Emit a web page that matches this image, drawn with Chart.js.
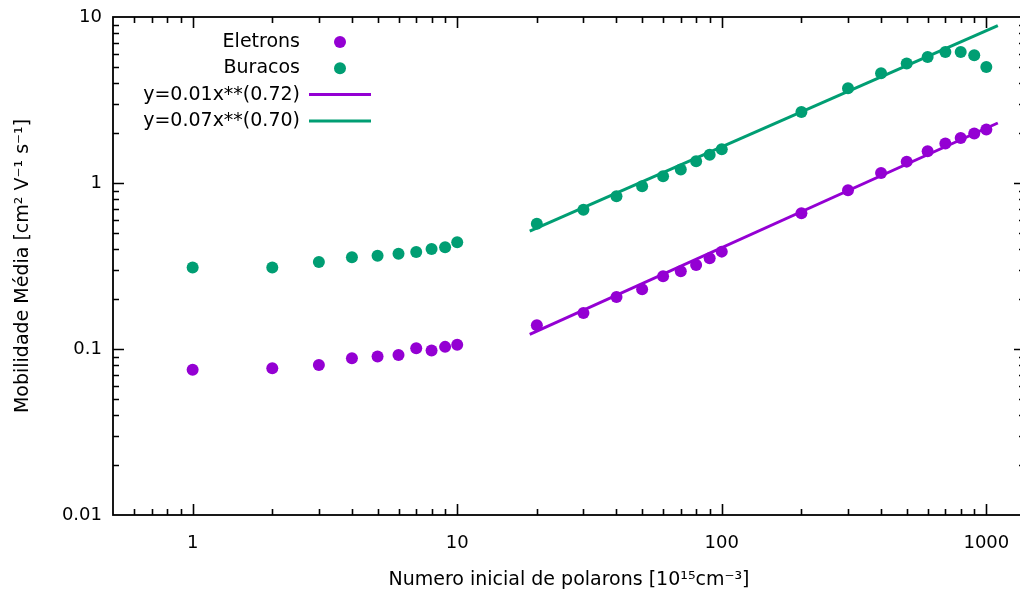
<!DOCTYPE html>
<html>
<head>
<meta charset="utf-8">
<script src="https://cdn.jsdelivr.net/npm/chart.js@4/dist/chart.umd.min.js"></script>
<style>
  html, body { margin: 0; padding: 0; background: #fff; overflow: hidden; }
  #wrap { width: 1032px; height: 595px; }
</style>
</head>
<body>
<div id="wrap"><canvas id="chart" width="1032" height="595"></canvas></div>
<script>
// Initial polaron density [10^15 cm^-3]
const densities = [1, 2, 3, 4, 5, 6, 7, 8, 9, 10,
                   20, 30, 40, 50, 60, 70, 80, 90, 100,
                   200, 300, 400, 500, 600, 700, 800, 900, 1000];
// Mean mobility [cm^2 V^-1 s^-1]
const electronMobility = [0.075, 0.0765, 0.080, 0.088, 0.090, 0.092, 0.101, 0.098, 0.103, 0.106,
                          0.139, 0.165, 0.206, 0.229, 0.274, 0.294, 0.321, 0.352, 0.386,
                          0.657, 0.904, 1.149, 1.345, 1.552, 1.727, 1.867, 1.984, 2.097];
const holeMobility = [0.310, 0.310, 0.334, 0.357, 0.365, 0.375, 0.384, 0.400, 0.410, 0.439,
                      0.569, 0.691, 0.831, 0.957, 1.097, 1.204, 1.350, 1.480, 1.596,
                      2.678, 3.720, 4.580, 5.240, 5.740, 6.150, 6.150, 5.880, 5.000];
// Power-law fits y = a * x**b  ->  [a, b]
const electronFit = [0.0148, 0.72];
const holeFit = [0.0657, 0.70];
const fitRange = [18.8, 1105];
// Axis ticks
const xTickValues = [1, 10, 100, 1000];
const yTickValues = [0.01, 0.1, 1, 10];
const seriesNames = ['Eletrons', 'Buracos'];

const PURPLE = '#9400d3';
const GREEN = '#009e73';
const FONT = "'DejaVu Sans', Verdana, sans-serif";

Chart.defaults.font.family = FONT;
Chart.defaults.color = '#000';

const fitLabel = f => 'y=' + f[0].toFixed(2) + 'x**(' + f[1].toFixed(2) + ')';
const fitPoints = f => fitRange.map(x => ({ x: x, y: f[0] * Math.pow(x, f[1]) }));
const pairs = ys => densities.map((x, i) => ({ x: x, y: ys[i] }));

// gnuplot-style frame: full box with inward major/minor ticks on every side
const framePlugin = {
  id: 'frame',
  afterDraw(chart) {
    const { ctx, chartArea: a, scales } = chart;
    const xs = scales.x, ys = scales.y;
    const majorLen = 11, minorLen = 6;
    ctx.save();
    ctx.strokeStyle = '#000';
    ctx.lineWidth = 1.8;
    ctx.strokeRect(a.left, a.top, a.right - a.left, a.bottom - a.top);
    ctx.lineWidth = 1.6;
    const logTicks = (min, max) => {
      const out = [];
      for (let d = Math.floor(Math.log10(min)); d <= Math.ceil(Math.log10(max)); d++) {
        for (let k = 1; k <= 9; k++) {
          const v = k * Math.pow(10, d);
          if (v > min * 1.0001 && v < max * 0.9999) out.push({ v: v, major: k === 1 });
        }
      }
      return out;
    };
    ctx.beginPath();
    logTicks(xs.min, xs.max).forEach(t => {
      const px = Math.round(xs.getPixelForValue(t.v)) + 0.5;
      const len = t.major ? majorLen : minorLen;
      ctx.moveTo(px, a.bottom); ctx.lineTo(px, a.bottom - len);
      ctx.moveTo(px, a.top); ctx.lineTo(px, a.top + len);
    });
    logTicks(ys.min, ys.max).forEach(t => {
      const py = Math.round(ys.getPixelForValue(t.v)) + 0.5;
      const len = t.major ? majorLen : minorLen;
      ctx.moveTo(a.left, py); ctx.lineTo(a.left + len, py);
      ctx.moveTo(a.right, py); ctx.lineTo(a.right - len, py);
    });
    ctx.stroke();
    ctx.restore();
  }
};

// Key in the upper left: right-aligned text with the sample to its right
const keyPlugin = {
  id: 'key',
  afterDraw(chart, args, opts) {
    const ctx = chart.ctx;
    ctx.save();
    ctx.font = opts.fontSize + 'px ' + FONT;
    ctx.textAlign = 'right';
    ctx.textBaseline = 'middle';
    ctx.fillStyle = '#000';
    const order = [2, 3, 0, 1];
    order.forEach((di, row) => {
      const ds = chart.data.datasets[di];
      const y = opts.top + row * opts.rowHeight;
      ctx.fillText(ds.label, opts.textRight, y);
      if (ds.type === 'line') {
        ctx.strokeStyle = ds.borderColor;
        ctx.lineWidth = ds.borderWidth;
        ctx.beginPath();
        ctx.moveTo(opts.sampleLeft, y);
        ctx.lineTo(opts.sampleRight, y);
        ctx.stroke();
      } else {
        ctx.fillStyle = ds.backgroundColor;
        ctx.beginPath();
        ctx.arc((opts.sampleLeft + opts.sampleRight) / 2, y, ds.pointRadius, 0, Math.PI * 2);
        ctx.fill();
        ctx.fillStyle = '#000';
      }
    });
    ctx.restore();
  }
};

new Chart(document.getElementById('chart'), {
  type: 'scatter',
  data: {
    datasets: [
      { type: 'line', label: fitLabel(electronFit), data: fitPoints(electronFit),
        borderColor: PURPLE, borderWidth: 3, pointRadius: 0, fill: false, order: 0 },
      { type: 'line', label: fitLabel(holeFit), data: fitPoints(holeFit),
        borderColor: GREEN, borderWidth: 3, pointRadius: 0, fill: false, order: 0 },
      { label: seriesNames[0], data: pairs(electronMobility), backgroundColor: PURPLE,
        pointRadius: 6, pointBorderWidth: 0, pointHoverRadius: 6, order: 1 },
      { label: seriesNames[1], data: pairs(holeMobility), backgroundColor: GREEN,
        pointRadius: 6, pointBorderWidth: 0, pointHoverRadius: 6, order: 1 }
    ]
  },
  options: {
    responsive: false,
    animation: false,
    devicePixelRatio: 1,
    layout: { padding: { top: 17, right: 7, left: 0, bottom: 0 } },
    plugins: {
      legend: { display: false },
      tooltip: { enabled: false },
      key: { top: 42, rowHeight: 26.3, textRight: 300, sampleLeft: 309, sampleRight: 371, fontSize: 19 }
    },
    scales: {
      x: {
        type: 'logarithmic', min: 0.5, max: 1400,
        grid: { display: false, drawTicks: false },
        border: { display: false },
        afterBuildTicks: s => { s.ticks = xTickValues.map(v => ({ value: v })); },
        afterFit: s => { s.height = 80; s.paddingLeft = 0; s.paddingRight = 0; },
        ticks: { autoSkip: false, maxRotation: 0, padding: 18, color: '#000',
                 font: { size: 18 }, callback: v => String(v) },
        title: { display: true, text: 'Numero inicial de polarons [10¹⁵cm⁻³]', color: '#000',
                 font: { size: 19 }, padding: { top: 0, bottom: 4 } }
      },
      y: {
        type: 'logarithmic', min: 0.01, max: 10,
        grid: { display: false, drawTicks: false },
        border: { display: false },
        afterBuildTicks: s => { s.ticks = yTickValues.map(v => ({ value: v })); },
        afterFit: s => { s.width = 113; s.paddingTop = 0; s.paddingBottom = 0; },
        ticks: { autoSkip: false, padding: 11, color: '#000',
                 font: { size: 18 }, callback: v => String(v) },
        title: { display: true, text: 'Mobilidade Média [cm² V⁻¹ s⁻¹]', color: '#000',
                 font: { size: 19 }, padding: { top: 12, bottom: 0 } }
      }
    }
  },
  plugins: [framePlugin, keyPlugin]
});
</script>
</body>
</html>
